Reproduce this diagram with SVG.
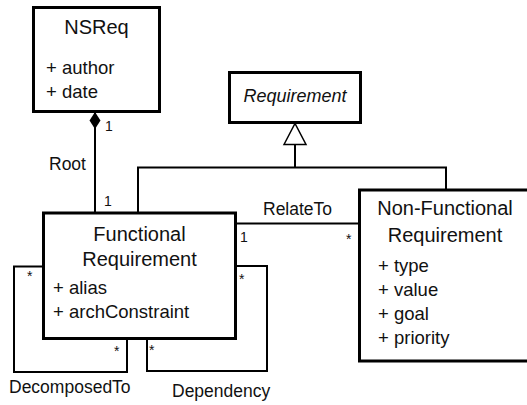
<svg xmlns="http://www.w3.org/2000/svg" width="527" height="405" viewBox="0 0 527 405">
  <style>
    .box { fill: #fff; stroke: #000; stroke-width: 3; }
    .edge { fill: none; stroke: #000; stroke-width: 2; }
    text { font-family: "Liberation Sans", Arial, sans-serif; fill: #111; }
    .title { font-size: 20px; text-anchor: middle; }
    .abstract { font-size: 18px; font-style: italic; text-anchor: middle; }
    .attr { font-size: 18.5px; }
    .label { font-size: 17.5px; }
    .mult { font-size: 14px; }
  </style>
  <defs>
    <marker id="composition" markerUnits="userSpaceOnUse" viewBox="0 0 18 12" refX="17.5" refY="6" markerWidth="18" markerHeight="12" orient="auto">
      <path d="M0.5,6 L9,0.5 L17.5,6 L9,11.5 Z" fill="#000"/>
    </marker>
    <marker id="inherit" markerUnits="userSpaceOnUse" viewBox="0 0 24 26" refX="22" refY="13" markerWidth="24" markerHeight="26" orient="auto">
      <path d="M1,2 L22,13 L1,24 Z" fill="#fff" stroke="#000" stroke-width="1.5"/>
    </marker>
  </defs>

  <g id="connectors">
    <!-- Root: composition from NSReq -->
    <path class="edge" d="M95,213 V112" marker-end="url(#composition)"/>
    <!-- generalization to Requirement -->
    <path class="edge" d="M138,213 V167.5 H446 V190"/>
    <path class="edge" d="M295,167.5 V123.5" marker-end="url(#inherit)"/>
    <!-- RelateTo -->
    <path class="edge" d="M236,223.5 H359"/>
    <!-- DecomposedTo self loop -->
    <path class="edge" d="M43,266.5 H14 V372 H127 V339"/>
    <!-- Dependency self loop -->
    <path class="edge" d="M236,266 H267 V371 H147 V339"/>

    <text class="label" x="49" y="170">Root</text>
    <text class="label" x="263" y="215">RelateTo</text>
    <text class="label" x="9" y="393">DecomposedTo</text>
    <text class="label" x="172" y="397">Dependency</text>

    <text class="mult" x="105" y="131">1</text>
    <text class="mult" x="104" y="206">1</text>
    <text class="mult" x="240" y="242">1</text>
    <text class="mult" x="346" y="244">*</text>
    <text class="mult" x="27" y="281">*</text>
    <text class="mult" x="114" y="356">*</text>
    <text class="mult" x="239" y="284">*</text>
    <text class="mult" x="149" y="355">*</text>
  </g>

  <g id="NSReq">
    <rect class="box" x="33.5" y="7.5" width="126" height="104"/>
    <text class="title" x="96.5" y="34">NSReq</text>
    <text class="attr" x="46" y="74">+ author</text>
    <text class="attr" x="46" y="98">+ date</text>
  </g>

  <g id="Requirement">
    <rect class="box" x="229.5" y="72.5" width="131" height="50"/>
    <text class="abstract" x="295" y="102">Requirement</text>
  </g>

  <g id="FunctionalRequirement">
    <rect class="box" x="43.5" y="213" width="192" height="125.5"/>
    <text class="title" x="139.5" y="241">Functional</text>
    <text class="title" x="139.5" y="266">Requirement</text>
    <text class="attr" x="53" y="294">+ alias</text>
    <text class="attr" x="53" y="318">+ archConstraint</text>
  </g>

  <g id="NonFunctionalRequirement">
    <rect class="box" x="359.5" y="190" width="172" height="171"/>
    <text class="title" x="445" y="215">Non-Functional</text>
    <text class="title" x="445" y="241.5">Requirement</text>
    <text class="attr" x="378" y="272">+ type</text>
    <text class="attr" x="378" y="296">+ value</text>
    <text class="attr" x="378" y="320">+ goal</text>
    <text class="attr" x="378" y="344">+ priority</text>
  </g>
</svg>
